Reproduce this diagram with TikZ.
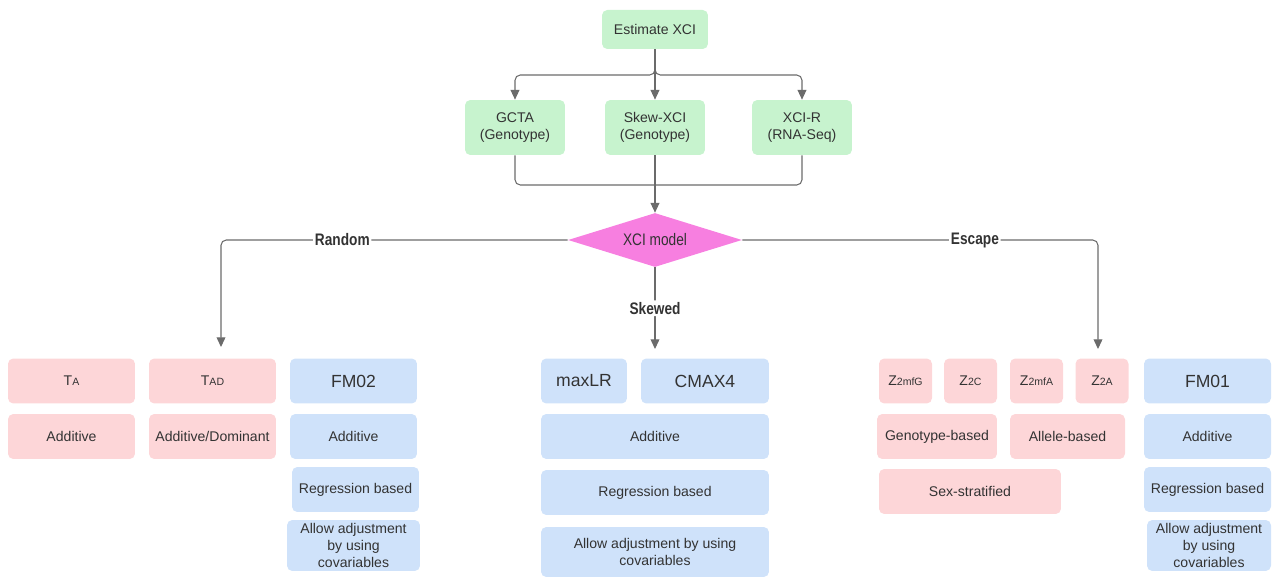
\documentclass[tikz,border=0pt]{standalone}
\usepackage{fontspec}
\setmainfont{Liberation Sans}
\newfontfamily\narrowfont[FakeStretch=0.82]{Liberation Sans}
\usetikzlibrary{shapes.geometric,arrows.meta,positioning}
\definecolor{XciGreen}{HTML}{C7F3CE}
\definecolor{XciPink}{HTML}{FDD6D8}
\definecolor{XciBlue}{HTML}{CFE2FA}
\definecolor{XciMagenta}{HTML}{F77FE0}
\definecolor{XciLine}{HTML}{6B6B6B}
\definecolor{XciText}{HTML}{333333}
\newcommand{\lowtag}[1]{{\fontsize{6}{7}\selectfont #1}}
\tikzset{
    % Base node style
    basenode/.style={
        rounded corners=3pt,
        text=XciText,
        align=center,
        inner sep=0pt,
        minimum width=2.54cm,
        minimum height=0.9cm,
        font=\fontsize{8}{9.5}\selectfont
    },
    % Method / input boxes
    greennode/.style={
        basenode,
        fill=XciGreen,
        minimum width=2cm,
        minimum height=1.1cm
    },
    pinknode/.style={
        basenode,
        fill=XciPink
    },
    bluenode/.style={
        basenode,
        fill=XciBlue
    },
    % Larger method names
    namefont/.style={
        font=\fontsize{10}{12}\selectfont
    },
    % Decision node
    modelnode/.style={
        diamond,
        aspect=3.2,
        fill=XciMagenta,
        text=XciText,
        inner sep=0pt,
        minimum width=3.48cm,
        minimum height=1.08cm,
        font=\narrowfont\fontsize{9.5}{11}\selectfont
    },
    % Connectors
    linkline/.style={
        draw=XciLine,
        line width=0.6pt,
        rounded corners=3pt
    },
    myarrow/.style={
        linkline,
        -{Triangle[length=5.5pt,width=5pt]}
    },
    % Branch labels
    branchlabel/.style={
        fill=white,
        text=XciText,
        inner sep=1pt,
        font=\narrowfont\bfseries\fontsize{9.5}{11}\selectfont
    }
}

\begin{document}
\begin{tikzpicture}[x=0.02cm,y=-0.02cm]
\useasboundingbox (0,0) rectangle (1275,577);

% top: estimation tools
\node[greennode,minimum width=2.12cm,minimum height=0.78cm] (est) at (655,29.5) {Estimate XCI};
\node[greennode] (gcta) at (515,127.5) {GCTA\\(Genotype)};
\node[greennode] (skew) at (655,127.5) {Skew-XCI\\(Genotype)};
\node[greennode] (xcir) at (802,127.5) {XCI-R\\(RNA-Seq)};
\coordinate (split) at (655,75);
\coordinate (merge) at (655,185);

\draw[myarrow] (est.south) -- (skew.north);
\draw[myarrow] (est.south) |- (split) -| (gcta.north);
\draw[myarrow] (est.south) |- (split) -| (xcir.north);
\draw[linkline] (gcta.south) |- (merge);
\draw[linkline] (xcir.south) |- (merge);

\node[modelnode] (model) at (655,240) {XCI model};
\draw[myarrow] (skew.south) -- (model.north);

% branches
\coordinate (randend) at (221,347);
\coordinate (skewend) at (655,349);
\coordinate (escend) at (1098,349);
\draw[myarrow] (model.west) -| node[branchlabel,pos=0.325] {Random} (randend);
\draw[myarrow] (model.south) -- node[branchlabel] {Skewed} (skewend);
\draw[myarrow] (model.east) -| node[branchlabel,pos=0.327] {Escape} (escend);

% random
\node[pinknode] (ta) at (71.5,381) {T\lowtag{A}};
\node[pinknode] (tad) at (212.5,381) {T\lowtag{AD}};
\node[bluenode,namefont] (fmzt) at (353.5,381) {FM02};
\node[pinknode] (taadd) at (71.5,436.5) {Additive};
\node[pinknode] (tadadd) at (212.5,436.5) {Additive/Dominant};
\node[bluenode] (fmztadd) at (353.5,436.5) {Additive};
\node[bluenode] (fmztreg) at (355.5,489.5) {Regression based};
\node[bluenode,minimum width=2.66cm,minimum height=1.02cm] (fmztadj) at (353.5,545.5) {Allow adjustment\\by using\\covariables};

% skewed
\node[bluenode,namefont,minimum width=1.72cm] (maxlr) at (584,381) {maxLR};
\node[bluenode,namefont,minimum width=2.56cm] (cmax) at (705,381) {CMAX4};
\node[bluenode,minimum width=4.56cm] (skewadd) at (655,436.5) {Additive};
\node[bluenode,minimum width=4.56cm] (skewreg) at (655,492.5) {Regression based};
\node[bluenode,minimum width=4.56cm,minimum height=1cm] (skewadj) at (655,552) {Allow adjustment by using\\covariables};

% escape
\node[pinknode,minimum width=1.06cm] (zmfg) at (905.5,381) {Z\lowtag{2mfG}};
\node[pinknode,minimum width=1.06cm] (zc) at (970.5,381) {Z\lowtag{2C}};
\node[pinknode,minimum width=1.06cm] (zmfa) at (1036.5,381) {Z\lowtag{2mfA}};
\node[pinknode,minimum width=1.06cm] (za) at (1102,381) {Z\lowtag{2A}};
\node[pinknode,minimum width=2.4cm] (geno) at (937,436.5) {Genotype-based};
\node[pinknode,minimum width=2.3cm] (allele) at (1067.5,436.5) {Allele-based};
\node[pinknode,minimum width=3.64cm] (sexstrat) at (970,491.5) {Sex-stratified};
\node[bluenode,namefont] (fmzo) at (1207.5,381) {FM01};
\node[bluenode] (fmzoadd) at (1207.5,436.5) {Additive};
\node[bluenode] (fmzoreg) at (1207.5,489.5) {Regression based};
\node[bluenode,minimum width=2.48cm,minimum height=1.02cm] (fmzoadj) at (1209,545.5) {Allow adjustment\\by using\\covariables};
\end{tikzpicture}
\end{document}
